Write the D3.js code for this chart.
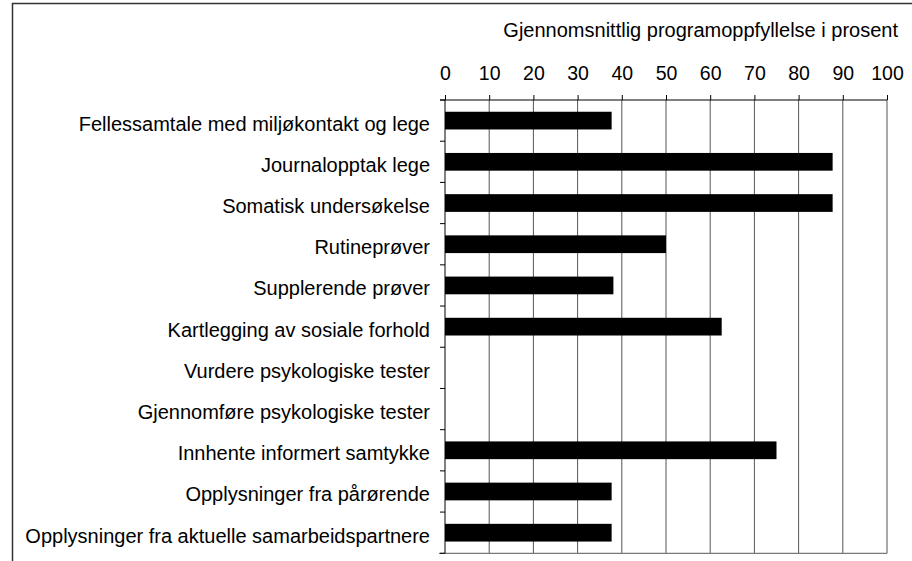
<!DOCTYPE html>
<html>
<head>
<meta charset="utf-8">
<script src="https://cdn.jsdelivr.net/npm/d3@7"></script>
<style>
    body { margin: 0; background: #fff; }
    text { font-family: "Liberation Sans", Arial, sans-serif; fill: #000; }
</style>
</head>
<body>
<div id="chart"></div>
<script>
// Data
let categories = [
    "Fellessamtale med miljøkontakt og lege",
    "Journalopptak lege",
    "Somatisk undersøkelse",
    "Rutineprøver",
    "Supplerende prøver",
    "Kartlegging av sosiale forhold",
    "Vurdere psykologiske tester",
    "Gjennomføre psykologiske tester",
    "Innhente informert samtykke",
    "Opplysninger fra pårørende",
    "Opplysninger fra aktuelle samarbeidspartnere"
];
let values = [37.7, 87.7, 87.7, 50, 38.1, 62.6, 0, 0, 75, 37.7, 37.7];
let xTicks = [0, 10, 20, 30, 40, 50, 60, 70, 80, 90, 100];
let axisTitle = "Gjennomsnittlig programoppfyllelse i prosent";

let width = 912, height = 561;
let margin = {top: 100, left: 445, right: 25, bottom: 7.7};
let plotW = width - margin.left - margin.right;
let plotH = height - margin.top - margin.bottom;

let svg = d3.select("#chart")
    .append("svg")
    .attr("width", width)
    .attr("height", height);

// outer frame (runs off the page at right and bottom)
svg.append("rect")
    .attr("x", 12.5)
    .attr("y", 3.5)
    .attr("width", 1000)
    .attr("height", 1000)
    .attr("fill", "none")
    .attr("stroke", "#333")
    .attr("stroke-width", 1.5);

let g = svg.append("g")
    .attr("transform", "translate(" + margin.left + "," + margin.top + ")");

let x = d3.scaleLinear().domain([0, 100]).range([0, plotW]);
let y = d3.scaleBand()
    .domain(categories)
    .range([0, plotH])
    .paddingInner(0.57)
    .paddingOuter(0.285);

// vertical gridlines
g.selectAll(".grid")
    .data(xTicks.slice(1))
    .enter()
    .append("line")
    .attr("x1", d => x(d))
    .attr("x2", d => x(d))
    .attr("y1", 0)
    .attr("y2", plotH)
    .attr("stroke", "#555")
    .attr("stroke-width", 1);

// bottom line
g.append("line")
    .attr("x1", -6).attr("x2", plotW)
    .attr("y1", plotH).attr("y2", plotH)
    .attr("stroke", "#777")
    .attr("stroke-width", 1.2);

// bars
g.selectAll(".bar")
    .data(values)
    .enter()
    .append("rect")
    .attr("x", 0)
    .attr("y", (d, i) => y(categories[i]))
    .attr("width", d => x(d))
    .attr("height", y.bandwidth())
    .attr("fill", "#000");

// top axis
let xAxis = d3.axisTop(x).tickValues(xTicks).tickSize(5).tickSizeOuter(0).tickPadding(15);
let xg = g.append("g").call(xAxis);
xg.select(".domain").remove();
xg.selectAll("line").attr("stroke", "#000");
xg.selectAll("text")
    .style("font-size", "19.5px")
    .style("font-family", "'Liberation Sans', Arial, sans-serif");
g.append("line")
    .attr("x1", -5).attr("x2", plotW)
    .attr("y1", 0).attr("y2", 0)
    .attr("stroke", "#000");

// left axis line
g.append("line")
    .attr("x1", 0).attr("x2", 0)
    .attr("y1", 0).attr("y2", plotH)
    .attr("stroke", "#000");

// category ticks at band boundaries
let step = y.step();
let bounds = categories.map(c => y(c) - (step - y.bandwidth()) / 2);
bounds.push(plotH);
g.selectAll(".ytick")
    .data(bounds)
    .enter()
    .append("line")
    .attr("x1", -5).attr("x2", 0)
    .attr("y1", d => d).attr("y2", d => d)
    .attr("stroke", "#000");

// category labels
g.selectAll(".label")
    .data(categories)
    .enter()
    .append("text")
    .attr("x", -15)
    .attr("y", d => y(d) + y.bandwidth() / 2 + 10)
    .attr("text-anchor", "end")
    .style("font-size", "20px")
    .text(d => d);

// axis title
svg.append("text")
    .attr("x", 898)
    .attr("y", 37)
    .attr("text-anchor", "end")
    .style("font-size", "20px")
    .text(axisTitle);
</script>
</body>
</html>
